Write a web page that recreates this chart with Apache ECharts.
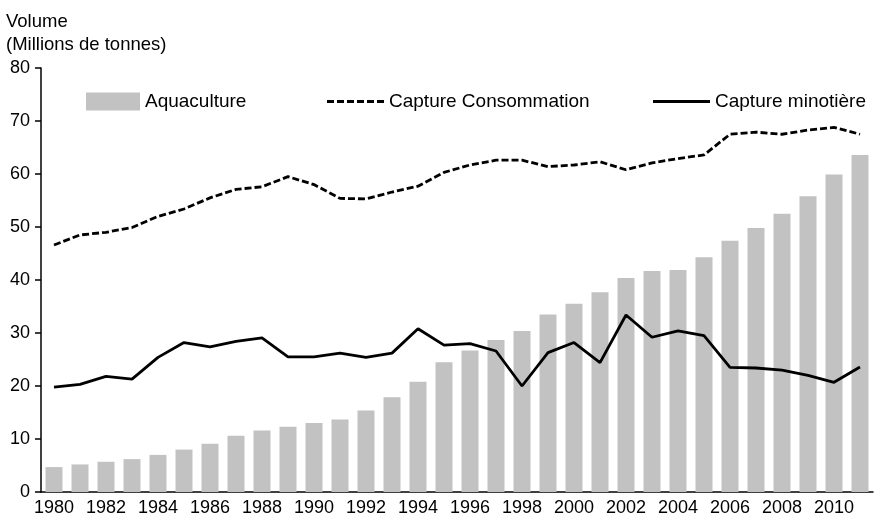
<!DOCTYPE html>
<html>
<head>
<meta charset="utf-8">
<script src="https://cdn.jsdelivr.net/npm/echarts@6/dist/echarts.min.js"></script>
<style>
  html, body { margin: 0; padding: 0; background: #fff; }
  #chart { width: 875px; height: 522px; }
</style>
</head>
<body>
<div id="chart"></div>
<script>
const years = [];
for (let y = 1980; y <= 2011; y++) years.push(String(y));

const aquaculture = [4.7, 5.2, 5.7, 6.2, 7.0, 8.0, 9.1, 10.6, 11.6, 12.3, 13.0, 13.7,
  15.4, 17.9, 20.8, 24.5, 26.7, 28.7, 30.4, 33.5, 35.5, 37.7, 40.4, 41.7,
  41.9, 44.3, 47.4, 49.8, 52.5, 55.8, 59.9, 63.6];

const captureConso = [46.6, 48.5, 49.0, 49.9, 52.0, 53.4, 55.5, 57.1, 57.6, 59.5, 58.0, 55.4,
  55.3, 56.6, 57.7, 60.3, 61.7, 62.6, 62.6, 61.4, 61.7, 62.3, 60.8, 62.1,
  62.9, 63.6, 67.5, 67.9, 67.5, 68.3, 68.8, 67.5];

const captureMino = [19.8, 20.3, 21.8, 21.3, 25.4, 28.2, 27.4, 28.4, 29.1, 25.5, 25.5, 26.2,
  25.4, 26.2, 30.8, 27.7, 28.0, 26.6, 20.0, 26.3, 28.2, 24.4, 33.4, 29.2,
  30.4, 29.5, 23.5, 23.4, 23.0, 22.0, 20.7, 23.6];

const font = 'Liberation Sans, Arial, Helvetica, sans-serif';
const legendText = { fontFamily: font, fontSize: 19, color: '#000' };
// dashed line swatch for the legend
const dashIcon = 'path://M0,0h7v3h-7z M10,0h7v3h-7z M20,0h7v3h-7z M30,0h7v3h-7z M40,0h7v3h-7z M50,0h7v3h-7z';
const chart = echarts.init(document.getElementById('chart'));

chart.setOption({
  animation: false,
  textStyle: { fontFamily: font, color: '#000' },
  title: {
    text: 'Volume\n(Millions de tonnes)',
    left: 1, top: 5,
    textStyle: { fontFamily: font, fontSize: 18.5, fontWeight: 'normal', color: '#000', lineHeight: 23 }
  },
  legend: [
    {
      data: [{ name: 'Aquaculture', icon: 'rect' }], left: 81, top: 87, itemWidth: 54, itemHeight: 18,
      textStyle: legendText
    },
    {
      data: [{ name: 'Capture Consommation', icon: dashIcon }], left: 322, top: 87, itemWidth: 57, itemHeight: 3,
      textStyle: legendText
    },
    {
      data: [{ name: 'Capture minotière', icon: 'rect' }], left: 648, top: 87, itemWidth: 57, itemHeight: 3,
      textStyle: legendText
    }
  ],
  grid: { left: 41, right: 2, top: 68, bottom: 30, containLabel: false },
  xAxis: {
    type: 'category',
    data: years,
    boundaryGap: true,
    axisLine: { lineStyle: { color: '#000', width: 1.5 } },
    axisTick: { interval: 0, length: 7, lineStyle: { color: '#000', width: 1.5 } },
    axisLabel: { interval: 1, fontSize: 18, color: '#000', margin: 7, fontFamily: font }
  },
  yAxis: {
    type: 'value',
    min: 0, max: 80, interval: 10,
    axisLine: { show: true, lineStyle: { color: '#000', width: 1.5 } },
    axisTick: { show: true, length: 6, lineStyle: { color: '#000', width: 1.5 } },
    axisLabel: { fontSize: 18, color: '#000', margin: 11, fontFamily: font },
    splitLine: { show: false }
  },
  series: [
    {
      name: 'Aquaculture',
      type: 'bar',
      data: aquaculture,
      barWidth: 17,
      itemStyle: { color: '#c2c2c2' }
    },
    {
      name: 'Capture Consommation',
      type: 'line',
      data: captureConso,
      symbol: 'none',
      lineStyle: { color: '#000', width: 2.8, type: [7, 3] },
      itemStyle: { color: '#000' }
    },
    {
      name: 'Capture minotière',
      type: 'line',
      data: captureMino,
      symbol: 'none',
      lineStyle: { color: '#000', width: 2.8 },
      itemStyle: { color: '#000' }
    }
  ]
});
</script>
</body>
</html>
